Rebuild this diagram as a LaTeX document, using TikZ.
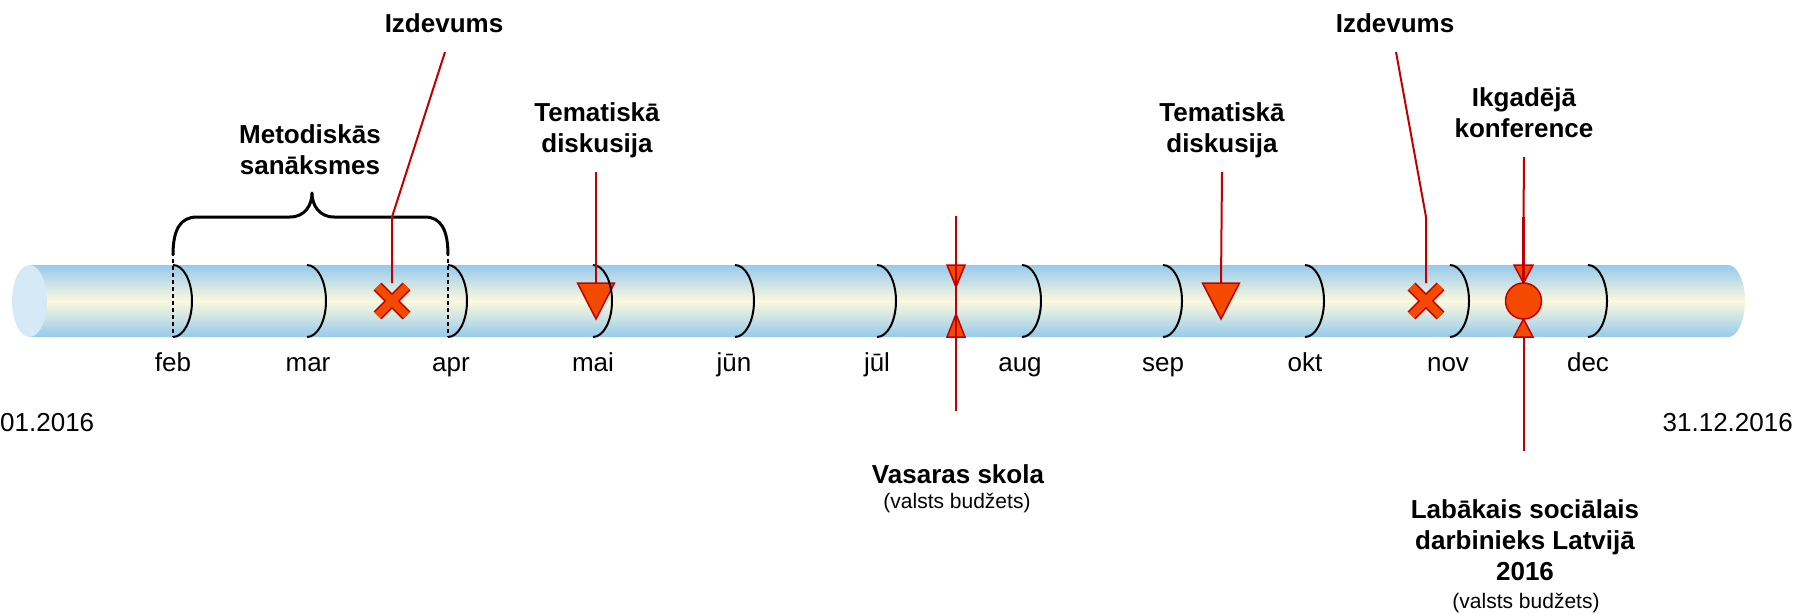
\documentclass[tikz,border=0pt]{standalone}
\usepackage{fontspec}
\setmainfont{Liberation Sans}
\definecolor{tubeblue}{RGB}{150,202,236}
\definecolor{tubemid}{RGB}{251,249,222}
\definecolor{tubeend}{RGB}{213,233,246}
\definecolor{leadred}{RGB}{192,0,0}
\definecolor{markfill}{RGB}{243,74,0}
\begin{document}
\begin{tikzpicture}[x=1pt,y=-1pt,
  month/.style={font=\fontsize{26}{31}\selectfont, anchor=base, inner sep=0pt},
  title/.style={font=\fontsize{26}{31}\selectfont\bfseries, align=center, anchor=base, inner sep=0pt},
  subtitle/.style={font=\fontsize{21}{25}\selectfont, anchor=base, inner sep=0pt},
  lead/.style={draw=leadred, line width=2pt},
  marker/.style={draw=leadred, fill=markfill, line width=1.5pt, line join=miter},
  monthline/.style={draw=black, line width=2pt},
  bracestyle/.style={draw=black, line width=3pt, line join=round},
  hidden/.style={draw=black, line width=1.6pt, dash pattern=on 4pt off 3pt}]
\useasboundingbox (0,0) rectangle (1799,615);

% tube
\shade[top color=tubeblue, bottom color=tubeblue, middle color=tubemid]
  (30,265) -- (1728,265) arc[start angle=-90,end angle=90,x radius=17,y radius=36] -- (30,337) -- cycle;
\fill[tubeend] (29.5,301) ellipse[x radius=17.5, y radius=36];

% marker positions
\coordinate (x1) at (392,301);
\coordinate (x2) at (1426,301);
\coordinate (t1) at (596,301);
\coordinate (t2) at (1221,301);
\coordinate (vs) at (956,301);
\coordinate (ik) at (1523.5,301);

% X markers
\foreach \c in {x1,x2}{
  \draw[leadred, line width=11pt] (\c) ++(-14.5,-14.5) -- ++(29,29);
  \draw[leadred, line width=11pt] (\c) ++(-14.5,14.5) -- ++(29,-29);
  \draw[markfill, line width=8pt] (\c) ++(-14.5,-14.5) -- ++(29,29);
  \draw[markfill, line width=8pt] (\c) ++(-14.5,14.5) -- ++(29,-29);
}
% triangles
\foreach \c in {t1,t2}{
  \draw[marker] (\c) ++(-18.5,-18) -- ++(37,0) -- ++(-18.5,36) -- cycle;
}
\draw[marker] (vs) ++(-9,-36) -- ++(18,0) -- ++(-9,22) -- cycle;
\draw[marker] (vs) ++(-9,36) -- ++(18,0) -- ++(-9,-23) -- cycle;
\draw[marker] (ik) ++(-9.5,-36) -- ++(19,0) -- ++(-9.5,18) -- cycle;
\draw[marker] (ik) ++(-9.5,36) -- ++(19,0) -- ++(-9.5,-18) -- cycle;
\draw[marker] (ik) circle[radius=18];

% month rings
\foreach \mx in {173,307,448,593,735,877,1022,1163,1305,1450,1588}{
  \draw[monthline] (\mx,265) arc[start angle=-90,end angle=90,x radius=19,y radius=36];
}
\draw[hidden] (173,252) -- (173,337);
\draw[hidden] (448,252) -- (448,337);

% brace
\draw[bracestyle] (173,255) .. controls (173,230) and (180,217) .. (197,217) -- (290,217)
  .. controls (305,217) and (312,205) .. (312,193)
  .. controls (312,205) and (319,217) .. (334,217) -- (425,217)
  .. controls (441,217) and (448,230) .. (448,255);

% month labels
\node[month] (mfeb) at (173,371) {feb};
\node[month] (mmar) at (308,371) {mar};
\node[month] (mapr) at (451,371) {apr};
\node[month] (mmai) at (593,371) {mai};
\node[month] (mjun) at (734,371) {jūn};
\node[month] (mjul) at (877,371) {jūl};
\node[month] (maug) at (1020,371) {aug};
\node[month] (msep) at (1163,371) {sep};
\node[month] (mokt) at (1305,371) {okt};
\node[month] (mnov) at (1448,371) {nov};
\node[month] (mdec) at (1588,371) {dec};

\node[month, anchor=base west] (start) at (0,431) {01.2016};
\node[month, anchor=base east] (end) at (1793,431) {31.12.2016};

% titles (anchor = baseline of last line)
\node[title] (izd1) at (444,33) {Izdevums};
\node[title] (izd2) at (1395,33) {Izdevums};
\node[title] (met) at (310,175) {Metodiskās\\sanāksmes};
\node[title] (tem1) at (597,153) {Tematiskā\\diskusija};
\node[title] (tem2) at (1222,153) {Tematiskā\\diskusija};
\node[title] (ikg) at (1524,138) {Ikgadējā\\konference};
\node[title] (vas) at (958,483) {Vasaras skola};
\node[subtitle] (vassub) at (957,508) {(valsts budžets)};
\node[title] (lab) at (1525,580) {Labākais sociālais\\darbinieks Latvijā\\2016};
\node[subtitle] (labsub) at (1526,608) {(valsts budžets)};

% leaders
\coordinate (i1a) at (445,52);
\coordinate (i1b) at (392,217);
\coordinate (i1c) at (392,283);
\draw[lead] (i1a) -- (i1b) -- (i1c);
\coordinate (i2a) at (1396,52);
\coordinate (i2b) at (1426,217);
\coordinate (i2c) at (1426,283);
\draw[lead] (i2a) -- (i2b) -- (i2c);
\coordinate (t1a) at (596,172);
\coordinate (t1b) at (596,283);
\draw[lead] (t1a) -- (t1b);
\coordinate (t2a) at (1222,172);
\coordinate (t2b) at (1221,283);
\draw[lead] (t2a) -- (t2b);
\coordinate (vsa) at (956,216);
\coordinate (vsb) at (956,411);
\draw[lead] (vsa) -- (vsb);
\coordinate (ika) at (1524,157);
\coordinate (ikb) at (1523.5,217);
\coordinate (ikc) at (1523.5,283);
\draw[lead] (ika) -- (ikb);
\draw[lead, line width=3.5pt] (ikb) -- (ikc);
\coordinate (ikd) at (1523.5,337);
\coordinate (ike) at (1523.5,451);
\draw[lead] (ikd) -- (ike);
\end{tikzpicture}
\end{document}
